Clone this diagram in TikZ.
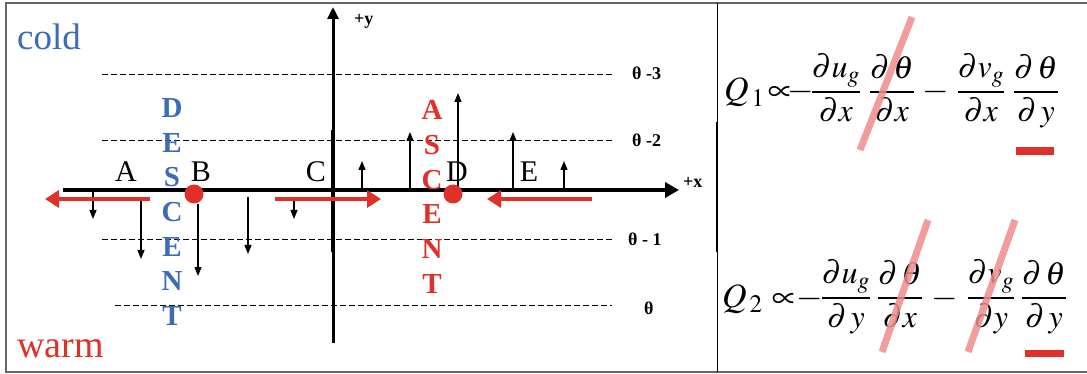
\documentclass[tikz,border=0pt]{standalone}
\usepackage{mathptmx}
\usepackage{fontspec}
\setmainfont{Liberation Serif}
\usetikzlibrary{arrows.meta}
\definecolor{cblue}{HTML}{3C6BB8}
\definecolor{cred}{HTML}{E0302A}
\definecolor{cpink}{HTML}{EE8C8C}
\definecolor{framegray}{HTML}{666666}
\begin{document}
\begin{tikzpicture}[x=1pt,y=-1pt,
  lbl/.style={font=\fontsize{30}{32}\selectfont, inner sep=0, anchor=base},
  vlet/.style={font=\fontsize{29}{30}\selectfont\bfseries, inner sep=0, anchor=base},
  thl/.style={font=\fontsize{18}{20}\selectfont\bfseries, inner sep=0, anchor=base west},
  axl/.style={font=\fontsize{18}{20}\selectfont\bfseries, inner sep=0, anchor=base west},
  isoline/.style={line width=0.9pt, dash pattern=on 6pt off 3pt},
  varr/.style={line width=1.3pt, -{Triangle[length=9pt,width=7pt]}},
  rarr/.style={cred, line width=4pt, -{Triangle[length=14pt,width=17pt]}},
  eq/.style={font=\fontsize{34}{38}\selectfont, inner sep=0, anchor=base},
  eqf/.style={font=\fontsize{32}{36}\selectfont, inner sep=0, anchor=base},
  strike/.style={cpink, line width=7pt, opacity=0.85},
  dot/.style={circle, fill=cred, inner sep=0, minimum size=19pt}]
\useasboundingbox (0,0) rectangle (1087,374);
% frame
\draw[framegray, line width=1.5pt] (1087,3) -- (6,3) -- (6,372) -- (1087,372);
\draw[black, line width=1pt] (717,3) -- (717,372);
\draw[black, line width=2.5pt] (717,122) -- (717,252);

% isolines
\coordinate (i3a) at (102,74);  \coordinate (i3b) at (612,74);
\coordinate (i2a) at (102,140); \coordinate (i2b) at (612,140);
\coordinate (i1a) at (102,239); \coordinate (i1b) at (612,239);
\coordinate (i0a) at (115,305); \coordinate (i0b) at (612,305);
\draw[isoline] (i3a) -- (i3b);
\draw[isoline] (i2a) -- (i2b);
\draw[isoline] (i1a) -- (i1b);
\draw[isoline] (i0a) -- (i0b);
\node[thl] (t3) at (632,80) {θ -3};
\node[thl] (t2) at (632,147) {θ -2};
\node[thl] (t1) at (628,245) {θ - 1};
\node[thl] (t0) at (644,314) {θ};

% axes
\coordinate (yb) at (333,343); \coordinate (yt) at (333,7);
\coordinate (xl) at (63,190);  \coordinate (xr) at (679,190);
\draw[line width=3pt, -{Triangle[length=12pt,width=11pt]}] (yb) -- (yt);
\draw[line width=4.5pt] (333,130) -- (333,252);
\draw[line width=4pt, -{Triangle[length=14pt,width=15pt]}] (xl) -- (xr);
\node[axl] (py) at (354,25) {+y};
\node[axl] (px) at (683,188) {+x};

% cold / warm
\node[font=\fontsize{37}{40}\selectfont, text=cblue, inner sep=0, anchor=base west] (cold) at (17,50) {cold};
\node[font=\fontsize{38}{40}\selectfont, text=cred, inner sep=0, anchor=base west] (warm) at (17,357) {warm};

% small vertical arrows
\foreach \n/\x/\ya/\yb in {d1/93/190/219, d2/141/197/259, d3/198/204/276, d4/248/197/254, d5/294/197/219,
                           u1/362/190/161, u2/410/190/132, u3/458/190/93, u4/513/190/132, u5/564/190/161}{
  \coordinate (\n a) at (\x,\ya);
  \coordinate (\n b) at (\x,\yb);
  \draw[varr] (\n a) -- (\n b);
}

% red horizontal arrows
\coordinate (r1a) at (150,199); \coordinate (r1b) at (45,199);
\coordinate (r2a) at (275,199); \coordinate (r2b) at (381,199);
\coordinate (r3a) at (592,199); \coordinate (r3b) at (487,199);
\draw[rarr] (r1a) -- (r1b);
\draw[rarr] (r2a) -- (r2b);
\draw[rarr] (r3a) -- (r3b);

% point labels
\node[lbl] (A) at (126,182) {A};
\node[lbl] (B) at (201,182) {B};
\node[lbl] (C) at (316,182) {C};
\node[lbl] (D) at (457,182) {D};
\node[lbl] (E) at (529,182) {E};

% dots
\node[dot] (dotB) at (194,194) {};
\node[dot] (dotD) at (453,194) {};

% DESCENT / ASCENT
\foreach \l [count=\i from 0] in {D,E,S,C,E,N,T}{
  \node[vlet, text=cblue] (des\i) at (172,118+34.5*\i) {\l};
}
\foreach \l [count=\i from 0] in {A,S,C,E,N,T}{
  \node[vlet, text=cred] (asc\i) at (432,120+34.6*\i) {\l};
}

% equation Q1 (bar at y=90)
\node[eq, anchor=base west] (q1) at (724,101) {$Q_{\,1}$};
\node[eq] (q1p) at (780,101) {$\propto$};
\node[eq] (q1m) at (801,101) {$-$};
\node[eqf] (f11) at (836,100) {$\displaystyle\frac{\partial u_g}{\partial x}$};
\node[eqf] (f12) at (892,100) {$\displaystyle\frac{\partial\,\theta}{\partial x}$};
\node[eq] (q1n) at (936,101) {$-$};
\node[eqf] (f13) at (981,100) {$\displaystyle\frac{\partial v_g}{\partial x}$};
\node[eqf] (f14) at (1036,100) {$\displaystyle\frac{\partial\,\theta}{\partial\, y}$};

% equation Q2 (bar at y=296)
\node[eq, anchor=base west] (q2) at (722,307) {$Q_{\,2}$};
\node[eq] (q2p) at (784,307) {$\propto$};
\node[eq] (q2m) at (810,307) {$-$};
\node[eqf] (f21) at (846,306) {$\displaystyle\frac{\partial u_g}{\partial\, y}$};
\node[eqf] (f22) at (900,306) {$\displaystyle\frac{\partial\,\theta}{\partial x}$};
\node[eq] (q2n) at (945,307) {$-$};
\node[eqf] (f23) at (991,306) {$\displaystyle\frac{\partial v_g}{\partial y}$};
\node[eqf] (f24) at (1044,306) {$\displaystyle\frac{\partial\,\theta}{\partial\, y}$};

% strikes and underlines
\coordinate (s1a) at (860,150); \coordinate (s1b) at (912,17);
\coordinate (s2a) at (882,352); \coordinate (s2b) at (928,220);
\coordinate (s3a) at (968,352); \coordinate (s3b) at (1015,220);
\draw[strike] (s1a) -- (s1b);
\draw[strike] (s2a) -- (s2b);
\draw[strike] (s3a) -- (s3b);
\fill[cred] (1016,147) rectangle (1054,155);
\fill[cred] (1025,350) rectangle (1064,357);
\end{tikzpicture}
\end{document}
